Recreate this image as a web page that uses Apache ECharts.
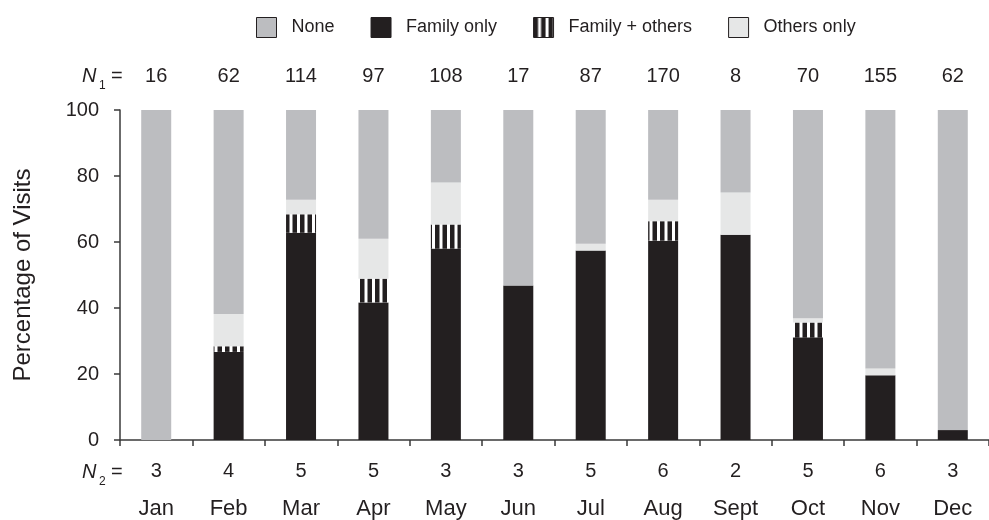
<!DOCTYPE html>
<html>
<head>
<meta charset="utf-8">
<script src="https://cdn.jsdelivr.net/npm/echarts@6/dist/echarts.min.js"></script>
<style>
  html, body { margin: 0; padding: 0; background: #fff; }
  #chart { width: 989px; height: 520px; }
</style>
</head>
<body>
<div id="chart"></div>
<script>
// Monthly visit composition (percent of visits by accompaniment type)
const months = ['Jan', 'Feb', 'Mar', 'Apr', 'May', 'Jun', 'Jul', 'Aug', 'Sept', 'Oct', 'Nov', 'Dec'];
const n1 = [16, 62, 114, 97, 108, 17, 87, 170, 8, 70, 155, 62];
const n2 = [3, 4, 5, 5, 3, 3, 5, 6, 2, 5, 6, 3];

const familyOnly   = [0, 26.7, 62.8, 41.7, 58.0, 46.8, 57.4, 60.4, 62.2, 31.1, 19.6, 3.0];
const familyOthers = [0, 1.7, 5.6, 7.2, 7.3, 0, 0, 5.9, 0, 4.5, 0, 0];
const othersOnly   = [0, 9.8, 4.4, 12.1, 12.7, 0, 2.1, 6.5, 12.8, 1.3, 2.1, 0];
const none         = [100, 61.8, 27.2, 39.0, 22.0, 53.2, 40.5, 27.2, 25.0, 63.1, 78.3, 97.0];

const yTicks = [0, 20, 40, 60, 80, 100];

const FONT = '"Liberation Sans", Arial, Helvetica, sans-serif';
const INK = '#231f20';

// vertical black/white stripe fill (two stripe periods per tile)
function stripePattern() {
  const c = document.createElement('canvas');
  c.width = 15; c.height = 8;
  const g = c.getContext('2d');
  g.fillStyle = '#ffffff';
  g.fillRect(0, 0, 15, 8);
  g.fillStyle = INK;
  g.fillRect(0, 0, 4.5, 8);
  g.fillRect(7.5, 0, 4.5, 8);
  return { image: c, repeat: 'repeat' };
}

const chart = echarts.init(document.getElementById('chart'), null, { renderer: 'canvas' });

const baseSeries = (name, data, color) => ({
  name, type: 'bar', stack: 'visits', data,
  barWidth: 30,
  itemStyle: { color },
  emphasis: { disabled: true },
  silent: true
});

chart.setOption({
  animation: false,
  textStyle: { fontFamily: FONT, color: INK },
  legend: {
    left: 251, top: 12,
    itemWidth: 20, itemHeight: 20, itemGap: 36,
    icon: 'rect',
    data: ['None', 'Family only', 'Family + others', 'Others only'],
    itemStyle: { borderColor: INK, borderWidth: 1 },
    textStyle: { fontFamily: FONT, fontSize: 18, color: INK, padding: [0, 0, 0, 10] },
    selectedMode: false
  },
  grid: { left: 120, top: 110, width: 880, height: 331, containLabel: false },
  xAxis: [
    {
      type: 'category', data: months, position: 'bottom',
      axisLine: { show: true, lineStyle: { color: '#3a3a3a', width: 1.5 } },
      axisTick: { show: true, length: 6, lineStyle: { color: '#3a3a3a', width: 1.5 } },
      axisLabel: { fontFamily: FONT, fontSize: 22, color: INK, margin: 58, interval: 0 }
    },
    {
      type: 'category', data: months, position: 'bottom',
      axisLine: { show: false }, axisTick: { show: false },
      axisLabel: { fontFamily: FONT, fontSize: 20, color: INK, margin: 21, interval: 0,
        formatter: (v, i) => String(n2[i]) }
    },
    {
      type: 'category', data: months, position: 'top',
      axisLine: { show: false }, axisTick: { show: false },
      axisLabel: { fontFamily: FONT, fontSize: 20, color: INK, margin: 24, interval: 0,
        formatter: (v, i) => String(n1[i]) }
    }
  ],
  yAxis: {
    type: 'value', min: yTicks[0], max: yTicks[yTicks.length - 1], interval: 20,
    name: 'Percentage of Visits', nameLocation: 'middle', nameGap: 85,
    nameTextStyle: { fontFamily: FONT, fontSize: 24, color: INK },
    axisLine: { show: true, lineStyle: { color: '#3a3a3a', width: 1.5 } },
    axisTick: { show: true, length: 6, lineStyle: { color: '#3a3a3a', width: 1.5 } },
    splitLine: { show: false },
    axisLabel: { fontFamily: FONT, fontSize: 20, color: INK, margin: 21 }
  },
  series: [
    baseSeries('Family only', familyOnly, INK),
    baseSeries('Family + others', familyOthers, stripePattern()),
    baseSeries('Others only', othersOnly, '#e6e7e7'),
    baseSeries('None', none, '#bcbdc0')
  ],
  graphic: [
    { type: 'text', left: 82, top: 66, style: { text: 'N', font: 'italic 20px ' + FONT, fill: INK } },
    { type: 'text', left: 99, top: 80, style: { text: '1', font: '12px ' + FONT, fill: INK } },
    { type: 'text', left: 111, top: 66, style: { text: '=', font: '20px ' + FONT, fill: INK } },
    { type: 'text', left: 82, top: 462, style: { text: 'N', font: 'italic 20px ' + FONT, fill: INK } },
    { type: 'text', left: 99, top: 476, style: { text: '2', font: '12px ' + FONT, fill: INK } },
    { type: 'text', left: 111, top: 462, style: { text: '=', font: '20px ' + FONT, fill: INK } }
  ]
});
</script>
</body>
</html>
